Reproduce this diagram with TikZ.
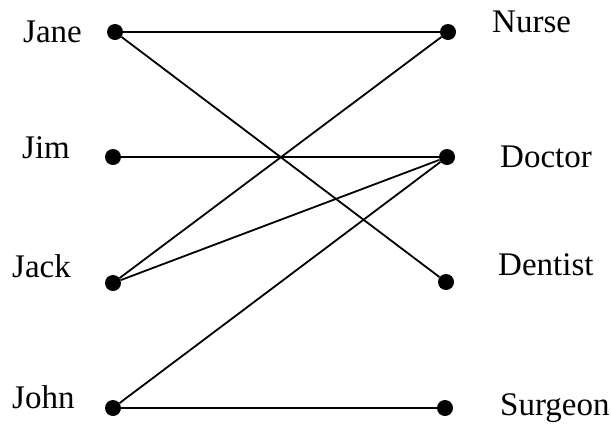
\documentclass[tikz,border=0pt]{standalone}
\usepackage{fontspec}
\setmainfont{Liberation Serif}
\begin{document}
\begin{tikzpicture}[x=1bp, y=-1bp,
		punto/.style={circle, fill=black, inner sep=0pt, minimum size=16bp},
		nombre/.style={anchor=base west, inner sep=0pt, font=\fontsize{33bp}{40bp}\selectfont},
		arista/.style={line width=1.8bp}]
	\useasboundingbox (0,0) rectangle (611,423);
	
	% Personas
	\node[punto] (jane) at (115,32) {};
	\node[punto] (jim)  at (113,157) {};
	\node[punto] (jack) at (113,283) {};
	\node[punto] (john) at (113,408) {};
	\node[nombre] (ljane) at (23,42)  {Jane};
	\node[nombre] (ljim)  at (22,158) {Jim};
	\node[nombre] (ljack) at (12,277) {Jack};
	\node[nombre] (ljohn) at (12,408) {John};
	
	% Profesiones
	\node[punto] (nurse)   at (448,32) {};
	\node[punto] (doctor)  at (447,157) {};
	\node[punto] (dentist) at (446,282) {};
	\node[punto] (surgeon) at (445,408) {};
	\node[nombre] (lnurse)   at (492,32)  {Nurse};
	\node[nombre] (ldoctor)  at (500,167) {Doctor};
	\node[nombre] (ldentist) at (498,275) {Dentist};
	\node[nombre] (lsurgeon) at (500,415) {Surgeon};
	
	% Aristas
	\draw[arista] (jane) -- (nurse);
	\draw[arista] (jane) -- (dentist);
	\draw[arista] (jim)  -- (doctor);
	\draw[arista] (jack) -- (nurse);
	\draw[arista] (jack) -- (doctor);
	\draw[arista] (john) -- (doctor);
	\draw[arista] (john) -- (surgeon);
\end{tikzpicture}
\end{document}
